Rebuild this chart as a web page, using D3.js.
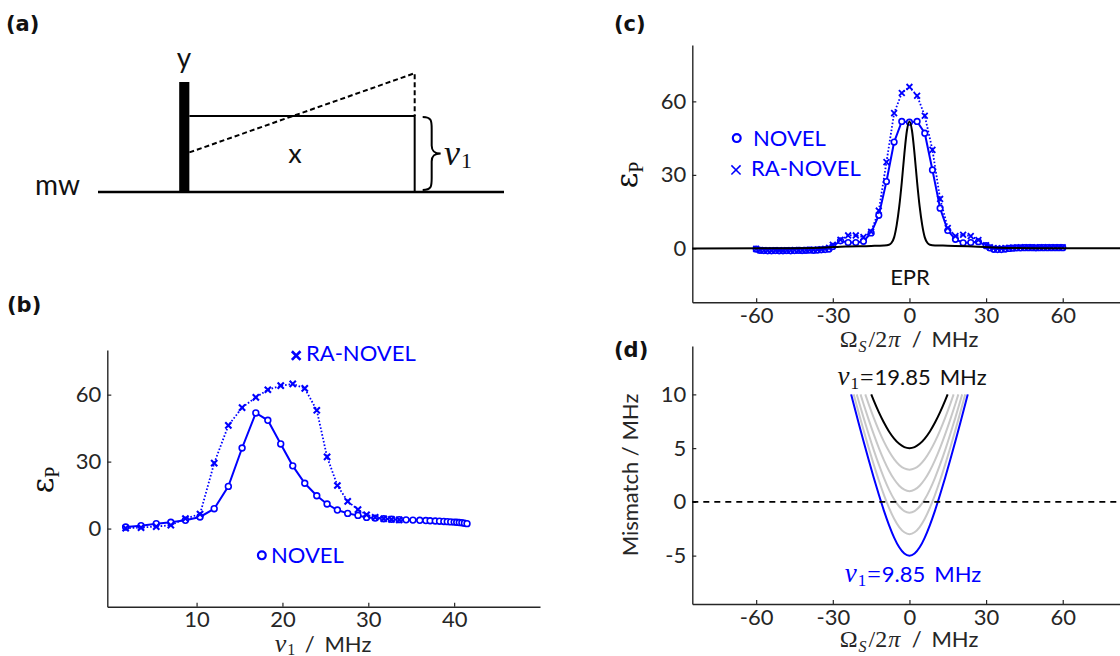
<!DOCTYPE html>
<html>
<head>
<meta charset="utf-8">
<script src="https://cdn.jsdelivr.net/npm/d3@7"></script>
<style>
  body { margin: 0; background: #fff; }
  svg { display: block; }
</style>
</head>
<body>
<svg width="1120" height="656"></svg>
<script>
// ---- data ----
// (b) polarisation vs nutation frequency
const nuB    = [1.74, 3.53, 5.3, 7.0, 8.7, 10.4, 12.05, 13.7, 15.3, 16.9, 18.3, 19.8, 21.2, 22.6, 24.0, 25.2, 26.4, 27.6, 28.8, 29.8,
                30.8, 31.8, 32.7, 33.6, 34.4, 35.2, 36.0, 36.7, 37.2, 37.8, 38.3, 38.8, 39.2, 39.6, 40.0, 40.3, 40.6, 40.9, 41.2, 41.5];
const novelB = [0.7, 1.3, 2.2, 2.8, 3.7, 5.2, 8.9, 18.9, 36.1, 51.8, 48.5, 37.9, 28.1, 20.3, 14.7, 11.0, 8.3, 6.8, 5.9, 5.0,
                4.7, 4.4, 4.2, 4.0, 3.9, 3.8, 3.7, 3.6, 3.5, 3.4, 3.3, 3.2, 3.1, 3.0, 2.9, 2.8, 2.7, 2.6, 2.4, 2.2];
const nuRaB  = [1.74, 3.53, 5.3, 7.0, 8.7, 10.4, 12.05, 13.7, 15.3, 16.9, 18.3, 19.8, 21.2, 22.6, 24.0, 25.2, 26.4, 27.6, 28.8, 29.8,
                30.8, 31.8, 32.7, 33.6];
const raB    = [0.15, 0.45, 0.9, 1.5, 4.5, 6.5, 29.3, 46.2, 54.2, 58.8, 62.2, 64.0, 64.8, 62.8, 53.0, 32.1, 19.3, 12.2, 8.5, 6.2,
                5.0, 4.4, 4.1, 3.9];

// (c) polarisation vs EPR offset
const omC = [-60, -58.5, -57, -55.5, -54, -52.5, -51, -49.5, -48, -46.5, -45, -43.5, -42, -40.5, -39, -37.5, -36, -34.5, -33, -31.5, -30,
             -27, -24, -21, -18, -15, -12, -9, -6, -3, 0, 3, 6, 9, 12, 15, 18, 21, 24, 27,
             30, 31.5, 33, 34.5, 36, 37.5, 39, 40.5, 42, 43.5, 45, 46.5, 48, 49.5, 51, 52.5, 54, 55.5, 57, 58.5, 60];
const novelC = [-0.3, -0.8, -0.9, -1.0, -1.0, -0.9, -1.0, -1.0, -0.9, -1.0, -0.9, -0.8, -0.9, -0.8, -0.7, -0.8, -0.7, -0.6, -0.5, -0.3, 0.8,
                3.1, 2.4, 2.4, 2.9, 6.3, 13.5, 27.3, 43.4, 51.8, 51.5, 51.8, 47.0, 32.0, 16.4, 7.3, 3.7, 2.3, 2.4, 2.7,
                1.1, 0.2, -0.4, -0.5, -0.5, -0.3, 0.0, 0.1, 0.2, 0.2, 0.3, 0.3, 0.3, 0.2, 0.3, 0.3, 0.3, 0.3, 0.3, 0.3, 0.3];
const raC    = [-0.2, -0.7, -0.8, -0.8, -0.9, -0.8, -0.8, -0.9, -0.8, -0.8, -0.7, -0.8, -0.7, -0.7, -0.6, -0.6, -0.5, -0.4, -0.2, 0.2, 1.5,
                3.5, 5.3, 5.3, 4.6, 6.8, 15.4, 35.2, 55.2, 63.4, 65.9, 62.3, 54.1, 40.2, 20.2, 8.3, 5.0, 5.6, 5.0, 3.4,
                1.3, 0.5, 0.1, 0.0, 0.0, 0.1, 0.2, 0.3, 0.3, 0.4, 0.4, 0.4, 0.4, 0.3, 0.4, 0.4, 0.4, 0.4, 0.4, 0.4, 0.5];
const eprOm = [-85, -50, -35, -25, -15, -10, -8, -7, -6, -5, -4, -3, -2, -1, 0, 1, 2, 3, 4, 5, 6, 7, 8, 10, 15, 25, 35, 50, 85];
const eprC  = [0, 0.1, 0.3, 0.8, 1.0, 1.2, 1.5, 2.3, 4.5, 9.5, 17, 27, 38.5, 48, 51.8, 48, 38.5, 27, 17, 9.5, 4.5, 2.3, 1.5, 1.2, 1.1, 0.8, 0.3, 0.1, 0];

// (d) mismatch curves, right half (they are symmetric in the offset)
const mmOm  = [0, 2, 4, 6, 8, 10, 12, 14, 16, 18, 20, 22];
const mm1985 = [5.00, 5.10, 5.40, 5.89, 6.55, 7.38, 8.35, 9.44];
const mm1785 = [3.00, 3.11, 3.44, 3.98, 4.71, 5.61, 6.66, 7.84, 9.12];
const mm1585 = [1.00, 1.13, 1.50, 2.10, 2.90, 3.89, 5.03, 6.30, 7.67, 9.13];
const mm1385 = [-1.00, -0.86, -0.43, 0.24, 1.14, 2.23, 3.48, 4.84, 6.31, 7.86, 9.48];
const mm1185 = [-3.00, -2.83, -2.34, -1.57, -0.55, 0.66, 2.01, 3.49, 5.06, 6.70, 8.40];
const mm985  = [-5.00, -4.80, -4.22, -3.32, -2.16, -0.81, 0.68, 2.27, 3.94, 5.67, 7.44, 9.25];
const mmEdge = [14.95, 17.29, 19.14, 20.63, 21.84, 22.81];   // offset where each curve reaches the 10 MHz top
const mmTop = 10;

const ticksB_x = [10, 20, 30, 40], ticksB_y = [0, 30, 60];
const ticksC_x = [-60, -30, 0, 30, 60], ticksC_y = [0, 30, 60];
const ticksD_y = [-5, 0, 5, 10];

// ---- setup ----
const svg = d3.select("svg");
const SANS = "Lato", SERIF = "Liberation Serif";
const BLUE = "#0000ff", INK = "#262626";

function axes(x, y, xt, yt) {
  const xa = svg.append("g")
    .attr("transform", `translate(0,${y.range()[0]})`)
    .call(d3.axisBottom(x).tickValues(xt).tickFormat(d => String(d)).tickSize(-4).tickSizeOuter(0).tickPadding(5));
  const ya = svg.append("g")
    .attr("transform", `translate(${x.range()[0]},0)`)
    .call(d3.axisLeft(y).tickValues(yt).tickFormat(d => String(d)).tickSize(-4).tickSizeOuter(0).tickPadding(6));
  [xa, ya].forEach(a => {
    a.select(".domain").attr("stroke", INK).attr("stroke-width", 1.4);
    a.selectAll(".tick line").attr("stroke", INK).attr("stroke-width", 1.2);
    a.selectAll(".tick text").attr("font-family", SANS).attr("font-size", 22).attr("fill", INK);
  });
}

// text made of pieces: [string, family, size, italic, dy, dx]
function label(x, y, parts, opt = {}) {
  const t = svg.append("text")
    .attr("x", x).attr("y", y)
    .attr("text-anchor", opt.anchor || "start")
    .attr("fill", opt.color || INK)
    .style("white-space", "pre");
  if (opt.rotate) t.attr("transform", `rotate(-90,${x},${y})`);
  parts.forEach(p => {
    t.append("tspan")
      .attr("font-family", p[1] === "serif" ? SERIF : p[1] === "dserif" ? "DejaVu Serif" : SANS)
      .attr("font-size", p[2])
      .attr("font-style", p[3] ? "italic" : "normal")
      .attr("dy", p[4] || 0)
      .attr("dx", p[5] || 0)
      .text(p[0]);
  });
  return t;
}

function panelTag(x, y, s) {
  svg.append("text").attr("x", x).attr("y", y)
    .attr("font-family", "DejaVu Sans").attr("font-weight", "bold")
    .attr("font-size", 21).attr("fill", "#111").text(s);
}

function crosses(g, pts, x, y, h, w) {
  g.selectAll(null).data(pts).join("path")
    .attr("transform", d => `translate(${x(d[0])},${y(d[1])})`)
    .attr("d", `M${-h},${-h}L${h},${h}M${-h},${h}L${h},${-h}`)
    .attr("stroke", BLUE).attr("stroke-width", w).attr("fill", "none");
}
function circles(g, pts, x, y, r, w) {
  g.selectAll(null).data(pts).join("circle")
    .attr("cx", d => x(d[0])).attr("cy", d => y(d[1])).attr("r", r)
    .attr("fill", "#fff").attr("stroke", BLUE).attr("stroke-width", w);
}

// ---- (a) pulse sequence ----
panelTag(6, 31, "(a)");
const xA = d3.scaleLinear().domain([0, 10]).range([98, 504]);
const yA = d3.scaleLinear().domain([0, 1]).range([192, 82]);
const pulseY = [2.0, 2.25];        // y pulse start/end, full amplitude
const lockT = [2.25, 7.8];         // x spin-lock start/end
const lockAmp = 0.69;
const rampAmp = [0.36, 1.08];      // RA-NOVEL ramp start/end amplitude

svg.append("line").attr("x1", xA(0)).attr("x2", xA(10)).attr("y1", yA(0)).attr("y2", yA(0))
  .attr("stroke", "#000").attr("stroke-width", 2.7);
svg.append("rect").attr("x", xA(pulseY[0])).attr("y", yA(1))
  .attr("width", xA(pulseY[1]) - xA(pulseY[0])).attr("height", yA(0) - yA(1)).attr("fill", "#000");
svg.append("path")
  .attr("d", `M${xA(lockT[0])},${yA(lockAmp)}H${xA(lockT[1])}V${yA(0)}`)
  .attr("fill", "none").attr("stroke", "#000").attr("stroke-width", 2);
svg.append("path")
  .attr("d", `M${xA(lockT[0])},${yA(rampAmp[0])}L${xA(lockT[1])},${yA(rampAmp[1])}V${yA(lockAmp)}`)
  .attr("fill", "none").attr("stroke", "#000").attr("stroke-width", 2).attr("stroke-dasharray", "5,3");
{
  const bx = xA(lockT[1]) + 8, t0 = yA(lockAmp) + 1, t1 = yA(0) - 2, m = (t0 + t1) / 2;
  svg.append("path")
    .attr("d", `M${bx},${t0}C${bx + 9},${t0} ${bx + 9},${t0 + 4} ${bx + 9},${t0 + 12}L${bx + 9},${m - 8}` +
               `C${bx + 9},${m - 2} ${bx + 12},${m} ${bx + 18},${m}C${bx + 12},${m} ${bx + 9},${m + 2} ${bx + 9},${m + 8}` +
               `L${bx + 9},${t1 - 12}C${bx + 9},${t1 - 4} ${bx + 9},${t1} ${bx},${t1}`)
    .attr("fill", "none").attr("stroke", "#000").attr("stroke-width", 2);
}
label(xA(2.12), 68, [["y", "sans", 28]], { anchor: "middle", color: "#111" });
label(xA(4.85), 163, [["x", "sans", 27]], { anchor: "middle", color: "#111" });
label(35, 195, [["mw", "sans", 28]], { color: "#111" });
label(444, 165, [["ν", "serif", 36, true], ["1", "serif", 22, false, 3, 1]], { color: "#111" });

// ---- (b) ----
panelTag(7, 312, "(b)");
const xB = d3.scaleLinear().domain([-0.4, 50]).range([107.3, 540]);
const yB = d3.scaleLinear().domain([-35, 80]).range([606.7, 350]);
axes(xB, yB, ticksB_x, ticksB_y);
const gB = svg.append("g");
const ptsRaB = nuRaB.map((v, i) => [v, raB[i]]);
const ptsNoB = nuB.map((v, i) => [v, novelB[i]]);
const lineB = d3.line().x(d => xB(d[0])).y(d => yB(d[1]));
gB.append("path").attr("d", lineB(ptsRaB)).attr("fill", "none").attr("stroke", BLUE)
  .attr("stroke-width", 1.8).attr("stroke-dasharray", "1.6,1.9");
gB.append("path").attr("d", lineB(ptsNoB)).attr("fill", "none").attr("stroke", BLUE).attr("stroke-width", 2);
circles(gB, ptsNoB, xB, yB, 2.9, 1.6);
crosses(gB, ptsRaB, xB, yB, 3.1, 2.1);
// legend (b)
crosses(gB, [[21.6, 77.5]], xB, yB, 4.3, 2.7);
label(306, 361, [["RA-NOVEL", "sans", 22]], { color: BLUE });
circles(gB, [[17.6, -12]], xB, yB, 3.9, 2.2);
label(271, 563, [["NOVEL", "sans", 22]], { color: BLUE });
label(323, 652, [["ν", "serif", 26, true], ["1", "serif", 16, false, 3, 1], [" / ", "sans", 22, false, -3, 4], ["MHz", "sans", 22, false, 0, 4]],
  { anchor: "middle" });
label(53, 480, [["ε", "dserif", 30], ["P", "serif", 20, false, 6]], { anchor: "middle", rotate: true, color: "#111" });

// ---- (c) ----
panelTag(614, 31, "(c)");
const xC = d3.scaleLinear().domain([-85, 85]).range([692.3, 1126.6]);
const yC = d3.scaleLinear().domain([-22, 83]).range([302.3, 45]);
axes(xC, yC, ticksC_x, ticksC_y);
const gC = svg.append("g");
const lineC = d3.line().x(d => xC(d[0])).y(d => yC(d[1]));
const ptsNoC = omC.map((v, i) => [v, novelC[i]]);
const ptsRaC = omC.map((v, i) => [v, raC[i]]);
gC.append("path").attr("d", lineC(ptsNoC)).attr("fill", "none").attr("stroke", BLUE).attr("stroke-width", 2);
circles(gC, ptsNoC, xC, yC, 2.8, 1.6);
gC.append("path").attr("d", lineC(ptsRaC)).attr("fill", "none").attr("stroke", BLUE)
  .attr("stroke-width", 1.8).attr("stroke-dasharray", "1.6,1.9");
crosses(gC, ptsRaC, xC, yC, 2.9, 1.8);
gC.append("path").attr("d", lineC.curve(d3.curveMonotoneX)(eprOm.map((v, i) => [v, eprC[i]])))
  .attr("fill", "none").attr("stroke", "#000").attr("stroke-width", 2);
// legend (c)
circles(gC, [[-67.6, 45]], xC, yC, 3.9, 2.2);
label(753, 146, [["NOVEL", "sans", 22]], { color: BLUE });
crosses(gC, [[-67.9, 32]], xC, yC, 4.6, 1.5);
label(751, 176, [["RA-NOVEL", "sans", 22]], { color: BLUE });
label(910, 285, [["EPR", "sans", 22]], { anchor: "middle", color: "#111" });
label(909, 347, [["Ω", "serif", 24], ["S", "serif", 16, true, 5, 1], ["/2", "serif", 24, false, -5, 2], ["π", "serif", 24, true, 0, 1],
                 [" / ", "sans", 22, false, 0, 6], ["MHz", "sans", 22, false, 0, 4]], { anchor: "middle" });
label(637, 175, [["ε", "dserif", 30], ["P", "serif", 20, false, 6]], { anchor: "middle", rotate: true, color: "#111" });

// ---- (d) ----
panelTag(614, 357, "(d)");
const xD = d3.scaleLinear().domain([-85, 85]).range([692.3, 1126.6]);
const yD = d3.scaleLinear().domain([-9.5, 14.5]).range([604, 346]);
axes(xD, yD, ticksC_x, ticksD_y);
const gD = svg.append("g");
const lineD = d3.line().x(d => xD(d[0])).y(d => yD(d[1])).curve(d3.curveMonotoneX);
function fullCurve(half, edge) {
  const right = half.map((v, i) => [mmOm[i], v]).concat([[edge, mmTop]]);
  const left = right.slice(1).map(d => [-d[0], d[1]]).reverse();
  return left.concat(right);
}
const grays = [[mm1785, mmEdge[1]], [mm1585, mmEdge[2]], [mm1385, mmEdge[3]], [mm1185, mmEdge[4]]];
grays.forEach(c => gD.append("path").attr("d", lineD(fullCurve(c[0], c[1])))
  .attr("fill", "none").attr("stroke", "#c8c8c8").attr("stroke-width", 2));
gD.append("path").attr("d", lineD(fullCurve(mm1985, mmEdge[0]))).attr("fill", "none").attr("stroke", "#000").attr("stroke-width", 2);
gD.append("path").attr("d", lineD(fullCurve(mm985, mmEdge[5]))).attr("fill", "none").attr("stroke", BLUE).attr("stroke-width", 2);
gD.append("line").attr("x1", xD(-85)).attr("x2", xD(85)).attr("y1", yD(0)).attr("y2", yD(0))
  .attr("stroke", "#000").attr("stroke-width", 1.6).attr("stroke-dasharray", "6,5");
label(912, 385, [["ν", "serif", 27, true], ["1", "serif", 17, false, 4, 1], ["=", "serif", 24, false, -4, 1], ["19.85", "sans", 22, false, 0, 1], ["MHz", "sans", 22, false, 0, 9]],
  { anchor: "middle", color: "#111" });
label(913, 582, [["ν", "serif", 27, true], ["1", "serif", 17, false, 4, 1], ["=", "serif", 24, false, -4, 1], ["9.85", "sans", 22, false, 0, 1], ["MHz", "sans", 22, false, 0, 9]],
  { anchor: "middle", color: BLUE });
label(909, 647, [["Ω", "serif", 24], ["S", "serif", 16, true, 5, 1], ["/2", "serif", 24, false, -5, 2], ["π", "serif", 24, true, 0, 1],
                 [" / ", "sans", 22, false, 0, 6], ["MHz", "sans", 22, false, 0, 4]], { anchor: "middle" });
label(638, 475, [["Mismatch / MHz", "sans", 22]], { anchor: "middle", rotate: true });
</script>
</body>
</html>
